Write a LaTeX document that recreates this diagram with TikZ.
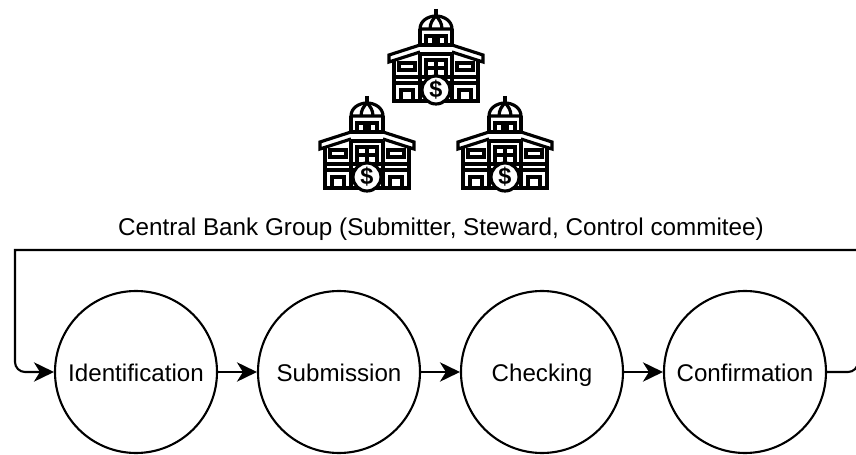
\documentclass[tikz,border=0pt]{standalone}
\usepackage{fontspec}
\setmainfont{Liberation Sans}
\usetikzlibrary{calc}
\usetikzlibrary{arrows.meta}
\tikzset{
    stage/.style={draw, circle, line width=1.8pt, minimum size=162*0.03cm, inner sep=0pt, text height=16pt, text depth=0pt, font=\fontsize{20.6}{24}\selectfont},
    flow/.style={line width=1.8pt, -{Stealth[length=6mm, width=5.8mm, inset=1.8mm]}},
    coinmark/.style={draw, circle, fill=white, line width=2.7pt, minimum size=28*0.03cm, inner sep=0pt, font=\fontsize{20}{22}\selectfont\bfseries},
    bank/.pic={
        \begin{scope}[line width=2.7pt]
            %KUBAH
            \draw (0,0) -- (0,7);
            \draw (-16,20) .. controls (-16,12) and (-8,7) .. (0,7) .. controls (8,7) and (16,12) .. (16,20) -- cycle;
            \draw (-6,20) .. controls (-6,14) and (-3,10) .. (0,7) .. controls (3,10) and (6,14) .. (6,20);
            %MENARA
            \draw (-16,20) -- (-16,38);
            \draw (16,20) -- (16,38);
            \draw (-10,35) -- (-10,27) -- (-2,27) -- (-2,35);
            \draw (2,35) -- (2,27) -- (10,27) -- (10,35);
            \draw (-16,36) -- (16,36);
            \draw (-16,45) -- (16,45);
            %ATAP
            \draw (-16,36) -- (-47,46) -- (-47,53) -- (-16,43);
            \draw (16,36) -- (47,46) -- (47,53) -- (16,43);
            %DINDING
            \draw (-42,50) -- (-42,92) -- (42,92) -- (42,50);
            \draw (-16,45) -- (-16,92);
            \draw (16,45) -- (16,92);
            \draw (-42,68) -- (42,68);
            \draw (-42,74) -- (42,74);
            %JENDELA
            \draw (-37,54) rectangle (-21,61);
            \draw (21,54) rectangle (37,61);
            \draw (-10,68) -- (-10,51) -- (10,51) -- (10,68);
            \draw (0,51) -- (0,68);
            \draw (-10,59) -- (10,59);
            %PINTU
            \draw (-35,92) -- (-35,81) -- (-23,81) -- (-23,92);
            \draw (23,92) -- (23,81) -- (35,81) -- (35,92);
        \end{scope}
        \node[coinmark] (coin) at (0,81) {\$};
    }
}
\begin{document}
\begin{tikzpicture}[x=0.03cm, y=-0.03cm]
    \useasboundingbox (0,0) rectangle (856,455);
    %GEDUNG
    \pic (bankTop) at (436,9) {bank};
    \pic (bankLeft) at (367,96) {bank};
    \pic (bankRight) at (505,96) {bank};
    %TEKS
    \node[font=\fontsize{20.7}{24}\selectfont] (group) at (441,229) {Central Bank Group (Submitter, Steward, Control commitee)};
    %LINGKARAN
    \node[stage] (identification) at (136,372) {Identification};
    \node[stage] (submission) at (339,372) {Submission};
    \node[stage] (checking) at (542,372) {Checking};
    \node[stage] (confirmation) at (745,372) {Confirmation};
    %KOORDINAT
    \coordinate (backL) at (15,250);
    \coordinate (backM) at (858,300);
    \coordinate (backR) at (858,250);
    %GARIS
    \draw[flow] (identification) -- (submission);
    \draw[flow] (submission) -- (checking);
    \draw[flow] (checking) -- (confirmation);
    \draw[flow, rounded corners=0.3cm] (confirmation.east) -| (backM) [sharp corners] -- (backR) -- (backL) [rounded corners=0.3cm] |- (identification.west);
\end{tikzpicture}
\end{document}
